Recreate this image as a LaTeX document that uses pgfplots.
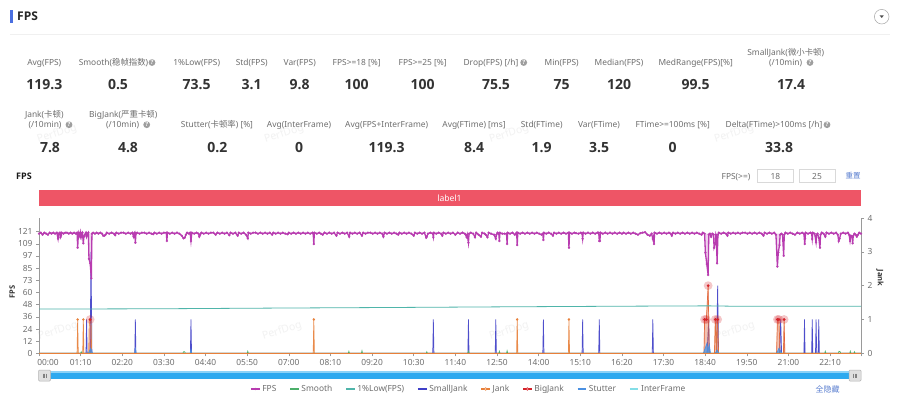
\documentclass[border=0pt]{standalone}
\usepackage{fontspec}
\usepackage{pgfplots}
\pgfplotsset{compat=1.18}
\setmainfont{Noto Sans}
\newfontfamily\ob{Open Sans}
\newfontfamily\cjk{Noto Sans CJK SC}
\definecolor{cfps}{HTML}{B83CB0}
\definecolor{csm}{HTML}{4CAF6A}
\definecolor{clow}{HTML}{4FB5AA}
\definecolor{csj}{HTML}{3F3FC8}
\definecolor{cj}{HTML}{E8803A}
\definecolor{cbj}{HTML}{D5232A}
\definecolor{cst}{HTML}{4A90E2}
\definecolor{cif}{HTML}{33C8D8}
\definecolor{lab}{HTML}{6E6E6E}
\definecolor{val}{HTML}{333333}
\definecolor{axg}{HTML}{9A9A9A}
\definecolor{lnk}{HTML}{5B7FD0}
\definecolor{tbar}{HTML}{4A6FE0}
\definecolor{band}{HTML}{EE5566}
\definecolor{sl}{HTML}{2DA9EF}
\definecolor{slt}{HTML}{8CD2F7}
\newcommand\fs[1]{\fontsize{#1}{#1}\selectfont}
\newcommand\lb[3]{\node[text=lab,font=\fs{8.4},inner sep=0pt,anchor=base] at (#1,#2+3) {#3};}
\newcommand\vl[3]{\node[text=val,font=\fs{14}\ob\bfseries,inner sep=0pt,anchor=base] at (#1,#2+5) {#3};}
\newcommand\qm[2]{\fill[black!38] (#1,#2) circle (3.4); \node[text=white,font=\fs{6}\ob\bfseries,inner sep=0pt] at (#1,#2) {?};}
\newcommand\wm[2]{\node[text=black!5,font=\fs{10.5},rotate=18,inner sep=0pt] at (#1,#2) {PerfDog};}
\pgfplotsset{
  base/.style={scale only axis,width=822pt,height=135.3pt,xmin=0,xmax=1382,
    axis line style={-,draw=axg,line width=.6pt},
    tick style={draw=axg,line width=.6pt},
    tick align=outside,major tick length=3pt,
    tick label style={font=\fs{8.4},text=lab},
    /pgf/number format/assume math mode=true,
    clip mode=individual},
  spike/.style={line width=.7pt,fill opacity=.3,draw opacity=.9},
}
\begin{document}
\begin{tikzpicture}[x=1pt,y=-1pt]
\useasboundingbox (0,0) rectangle (900,396);
\fill[white] (0,0) rectangle (900,396);
% watermarks
\wm{57}{134}\wm{284}{134}\wm{509}{134}\wm{734}{134}
\wm{58}{331}\wm{282}{331}\wm{509}{331}\wm{735}{331}
% header
\fill[tbar] (10,10) rectangle (12.5,23);
\node[anchor=west,text=black!85,font=\fs{12}\ob\bfseries,inner sep=0pt] at (17,16.7) {FPS};
\draw[black!6,line width=.6pt] (10,34.3) -- (890,34.3);
\draw[black!35,line width=.5pt] (881.7,16.7) circle (7.3);
\fill[black!70] (879.7,15.5) -- (883.7,15.5) -- (881.7,18) -- cycle;
% row 1
\lb{44.3}{62.7}{Avg(FPS)}\vl{44.3}{85}{119.3}
\lb{113.5}{62.7}{Smooth({\cjk 稳帧指数})}\qm{152}{62.5}\vl{118}{85}{0.5}
\lb{196.7}{62.7}{1\%Low(FPS)}\vl{196.7}{85}{73.5}
\lb{251.7}{62.7}{Std(FPS)}\vl{251.7}{85}{3.1}
\lb{299.7}{62.7}{Var(FPS)}\vl{299.7}{85}{9.8}
\lb{356.7}{62.7}{FPS>=18 [\%]}\vl{356.7}{85}{100}
\lb{422.7}{62.7}{FPS>=25 [\%]}\vl{422.7}{85}{100}
\lb{491}{62.7}{Drop(FPS) [/h]}\qm{523.7}{62.5}\vl{496}{85}{75.5}
\lb{561.7}{62.7}{Min(FPS)}\vl{561.7}{85}{75}
\lb{619}{62.7}{Median(FPS)}\vl{619}{85}{120}
\lb{695.7}{62.7}{MedRange(FPS)[\%]}\vl{695.7}{85}{99.5}
\lb{785.7}{52.3}{SmallJank({\cjk 微小卡顿})}\lb{785.7}{62.7}{(/10min)}\qm{810}{62.5}\vl{791}{85}{17.4}
% row 2
\lb{44.3}{114.3}{Jank({\cjk 卡顿})}\lb{45}{124.7}{(/10min)}\qm{69}{124.7}\vl{50}{147}{7.8}
\lb{123.3}{114.3}{BigJank({\cjk 严重卡顿})}\lb{122.7}{124.7}{(/10min)}\qm{146.7}{124.7}\vl{128}{147}{4.8}
\lb{217}{124.7}{Stutter({\cjk 卡顿率}) [\%]}\vl{217.3}{147}{0.2}
\lb{299}{124.7}{Avg(InterFrame)}\vl{299}{147}{0}
\lb{386.7}{124.7}{Avg(FPS+InterFrame)}\vl{386.7}{147}{119.3}
\lb{474}{124.7}{Avg(FTime) [ms]}\vl{474}{147}{8.4}
\lb{541.7}{124.7}{Std(FTime)}\vl{541.7}{147}{1.9}
\lb{599}{124.7}{Var(FTime)}\vl{599}{147}{3.5}
\lb{672.7}{124.7}{FTime>=100ms [\%]}\vl{672.7}{147}{0}
\lb{774}{124.7}{Delta(FTime)>100ms [/h]}\qm{827}{124.7}\vl{779}{147}{33.8}
% chart head
\node[anchor=west,text=black!90,font=\fs{9}\ob\bfseries,inner sep=0pt] at (16,176.5) {FPS};
\lb{736}{176}{FPS(>=)}
\draw[black!15,line width=.6pt] (757.3,169.3) rectangle (793.3,182.3);
\draw[black!15,line width=.6pt] (799,169.3) rectangle (835,182.3);
\lb{775.3}{176}{18}\lb{817}{176}{25}
\node[text=lnk,font=\fs{7.5}\cjk,inner sep=0pt] at (853,176) {重置};
\fill[band] (39,190.3) rectangle (861,205.7);
\node[text=white,font=\fs{8.6},inner sep=0pt] at (449.5,198) {label1};
\node[text=val,font=\fs{7.5}\ob\bfseries,rotate=90,inner sep=0pt] at (12.3,291.7) {FPS};
\node[text=val,font=\fs{7.5}\ob\bfseries,rotate=-90,inner sep=0pt] at (880,278) {Jank};
% slider
\fill[sl] (39,371) rectangle (861,379.3);
\fill[slt] (39,371) rectangle (861,372.6);
\draw[black!30,fill=black!12,line width=.5pt,rounded corners=1pt] (38.5,370) rectangle (50.5,381);
\draw[black!30,fill=black!12,line width=.5pt,rounded corners=1pt] (849,370) rectangle (861,381);
\draw[black!50,line width=.4pt] (43,373.5)--(43,377.5) (44.5,373.5)--(44.5,377.5) (46,373.5)--(46,377.5);
\draw[black!50,line width=.4pt] (853.5,373.5)--(853.5,377.5) (855,373.5)--(855,377.5) (856.5,373.5)--(856.5,377.5);
\node[text=lnk,font=\fs{8}\cjk,inner sep=0pt] at (827.7,389) {全隐藏};
% right axis: jank family
\begin{axis}[base,at={(39pt,-353.3pt)},anchor=south west,
  axis y line*=right,axis x line=none,ymin=0,ymax=4,ytick={0,1,2,3,4}]
\addplot[csj,spike,fill=csj] coordinates {(0,0)(79,0)(80,1)(81,0)(86,0)(87.4,3)(89,0)(161,0)(162,1)(163,0)(254.5,0)(255.5,1)(256.5,0)
 (662,0)(663,1)(664,0)(721,0)(722,1)(723,0)(767,0)(768,1)(769,0)(847,0)(848,1)(849,0)(913,0)(914,1)(915,0)(941,0)(942,1)(943,0)(1031,0)(1032,1)(1033,0)
 (1123,0)(1124,.3)(1126,1)(1127,0)(1139,0)(1141,2)(1142.5,0)(1245,0)(1247,1)(1248.5,0)(1286,0)(1287,1)(1288,0)(1299,0)(1300,1)(1301,0)(1305.5,0)(1306.5,1)(1307.5,0)(1310,0)(1311,1)(1312,0)(1382,0)};
\addplot[cj,spike,fill=cj] coordinates {(0,0)(64,0)(65,1)(66,0)(73.5,0)(74.5,1)(75.5,0)(83.5,0)(84.5,1)(86,1)(87.5,1)(88.5,0)(461,0)(462,1)(463,0)(803,0)(804,1)(805,0)(890,0)(891,1)(892,0)
 (1118,0)(1119,1)(1122,1)(1125,2)(1127,0)(1135.5,0)(1137,1)(1139,0)(1140,1)(1141,1)(1142.5,0)(1240,0)(1241.5,1)(1244,1)(1246,0)(1251.5,0)(1252.7,1)(1254,0)(1382,0)};
\addplot[only marks,cj,mark=*,mark size=1pt,mark options={fill=cj,draw=cj}] coordinates {(65,1)(74.5,1)(462,1)(804,1)(891,1)};
\addplot[cbj,line width=.5pt,fill=cbj,fill opacity=.12,draw opacity=.35] coordinates {(0,0)(85,0)(86,1)(87,0)(1118,0)(1119,1)(1122,1)(1125,2)(1127,0)(1136,0)(1137,1)(1141,1)(1142,0)(1240,0)(1241.5,1)(1244,1)(1245.5,0)(1252,0)(1252.7,1)(1254,0)(1382,0)};
\addplot[cst,line width=.6pt,fill=cst,fill opacity=.7] coordinates {(0,0)(83,0)(87,.15)(90,0)(161,0)(162,.12)(163,0)(254,0)(255.5,.12)(257,0)(1117,0)(1122,.25)(1123,.3)(1124,.05)(1127,.25)(1129,0)(1137,0)(1140,.1)(1143,0)(1240,0)(1244,.15)(1249,0)(1382,0)};
\addplot[only marks,cbj,mark=*,mark size=4.4pt,mark options={fill=cbj,fill opacity=.25,draw opacity=0}] coordinates {(86,1)(1119,1)(1122,1)(1125,2)(1137,1)(1141,1)(1241.5,1)(1244,1)(1252.7,1)};
\addplot[only marks,cbj,mark=*,mark size=1.2pt,mark options={fill=cbj,draw=cbj}] coordinates {(86,1)(1119,1)(1122,1)(1125,2)(1137,1)(1141,1)(1241.5,1)(1244,1)(1252.7,1)};
\end{axis}
% left axis: FPS family with the legend
\begin{axis}[base,at={(39pt,-353.3pt)},anchor=south west,
  axis y line*=left,axis x line*=bottom,ymin=0,ymax=134.6,
  ytick={0,12.1,24.2,36.3,48.4,60.5,72.6,84.7,96.8,108.9,121},
  yticklabels={0,12,24,36,48,60,73,85,97,109,121},
  xtick={0,70,140,210,280,350,420,490,560,630,700,770,840,910,980,1050,1120,1190,1260,1330,1382},
  xticklabels={\hspace*{18pt}00:00,01:10,02:20,03:30,04:40,05:50,07:00,08:10,09:20,10:30,11:40,12:50,14:00,15:10,16:20,17:30,18:40,19:50,21:00,22:10,{}},
  legend columns=8,
  legend style={at={(0.2567,-0.264)},anchor=west,draw=none,fill=none,inner sep=0pt,
    font=\fs{8.4},text=lab,cells={anchor=west},
    /tikz/every even column/.style={column sep=11pt}},
  legend image code/.code={\draw[mark repeat=2,mark phase=2,#1,line width=1.5pt] plot coordinates {(0pt,0pt)(4.3pt,0pt)(8.6pt,0pt)};},
]
\addplot[cfps,draw=none,fill=cfps,fill opacity=.22,forget plot] coordinates {(82,119)(84,94)(86,89.5)(88,74.6)(90,119)};
\addplot[cfps,draw=none,fill=cfps,fill opacity=.22,forget plot] coordinates {(1118,119)(1120.4,100)(1122.7,88.8)(1125,77.9)(1128,119)};
\addplot[cfps,draw=none,fill=cfps,fill opacity=.22,forget plot] coordinates {(1133,119)(1135,105)(1137,108.7)(1140,89.5)(1142,119)};
\addplot[cfps,draw=none,fill=cfps,fill opacity=.22,forget plot] coordinates {(1239,119)(1241.4,86.2)(1243,100.4)(1245,107.7)(1247,119)};
\addplot[cfps,line width=1.3pt,mark=*,mark size=1.05pt,mark options={fill=cfps,draw=cfps,line width=.2pt}] coordinates {
(0,119)(3,120)(6,118)(9,120)(12,119)(15,118)(18,120)(21,119)(24,120)(27,119)(30,120)(32,114)(33,119)(35,120)(36,115.5)(37,117)(38,120)(41,119)(44,120)(47,120)(50,119)(53,120)(56,119)(59,120)(62,119)(64,120)(65,105)(66,116)(67,120)(69,116)(70,120)(71,116)(72,119)(73,120)(74.5,109.4)(75.5,116)(77,118)(79,120)(80,116)(81,118)(83,120)(84,94)(86,89.5)(88,74.6)(89,119)(91,120)(94,119)(97,120)(100,119)(103,120)(106,119)(108,117)(110,117)(112,118)(114,120)(118,119)(122,120)(126,119)(128,117.5)(130,120)(134,119)(138,120)(142,120)(146,119)(150,120)(154,119)(157,120)(159,116)(160,119)(161,120)(162,110)(163,119)(165,120)(169,119)(173,120)(177,120)(181,119)(185,120)(189,119)(192,118.5)(194,120)(198,119)(202,120)(206,119)(210,120)(214,120)(215,111.7)(216,120)(220,119)(224,120)(228,119)(232,120)(236,119)(240,117)(243,114.4)(245,115)(247,118)(249,120)(252,119)(254,120)(255.5,111.7)(257,120)(261,119)(265,120)(268,119)(269.5,116)(271,118)(273,120)(277,119)(281,120)(285,119)(289,120)(293,120)(297,118)(300,120)(304,119)(308,120)(312,119)(316,120)(320,117.5)(322,120)(326,119)(330,120)(334,117)(336,120)(340,119)(344,120)(348,118)(351,114.4)(352,120)(356,119)(360,120)(364,120)(368,119)(372,120)(376,119)(380,120)(384,119)(388,120)(392,118)(394,120)(398,119)(402,120)(406,119)(410,120)(414,119)(418,118.5)(420,120)(424,119)(428,120)(432,119)(436,120)(440,119)(444,120)(448,119)(452,120)(456,119)(460,120)(461,119)(462,108.7)(463,120)(467,119)(471,120)(474,119)(477,118)(480,120)(484,119)(488,120)(492,119)(496,120)(500,117)(502,120)(506,119)(510,120)(514,119)(518,120)(521.5,116)(523,120)(527,119)(531,120)(535,119)(539,120)(543,117)(545,120)(549,119)(553,120)(557,120)(561,119)(565,120)(569,119)(573,120)(577,119)(579,116)(581,120)(585,119)(589,120)(593,119)(597,120)(601,119)(604,118)(606,120)(610,119)(614,120)(618,119)(622,120)(626,119)(630,117)(632,120)(636,119)(640,120)(644,119)(648,120)(651,115)(652,116)(654,119)(658,120)(662,119)(663,115.5)(664,120)(668,119)(672,120)(676,119)(678,117)(680,120)(684,119)(688,120)(692,119)(696,120)(700,118)(704,120)(708,119)(712,120)(716,119)(719,115.5)(720,118)(722,110)(723,119)(726,120)(730,119)(733,115.5)(735,120)(739,118)(743,116)(745,120)(749,119)(751,118)(754,115.5)(756,120)(760,119)(765,118)(768,114)(769,118)(771,120)(773,119)(774,111.7)(775,120)(779,119)(783,119)(786,119)(787,108.7)(788,120)(792,119)(796,120)(800,118)(803,120)(804,107.7)(805,120)(809,119)(813,120)(817,119)(821,120)(825,119)(829,120)(833,119)(837,120)(841,119)(845,118)(847,119)(848,112.7)(849,120)(853,119)(857,120)(861,119)(864,117)(866,120)(870,119)(874,120)(878,119)(882,120)(886,119)(890,120)(891,105)(892,120)(896,119)(900,120)(903,119.5)(907,119)(911,120)(913,119)(914,114)(915,120)(919,119)(923,120)(927,119)(931,120)(935,119)(939,120)(941,120)(942,111.7)(943,111.7)(944,120)(948,119)(952,120)(956,119)(960,120)(964,119)(968,120)(972,119)(976,120)(980,119)(983,120)(987,119)(991,120)(995,119)(999,120)(1003,119)(1007,118)(1011,119.5)(1015,120)(1019,120.5)(1023,118)(1027,117)(1030,119)(1032,113.7)(1033,116)(1034,108.7)(1035,120)(1039,119)(1043,120)(1047,119)(1051,120)(1055,119)(1059,120)(1062,119)(1064,117)(1066,120)(1070,119)(1074,120)(1078,119)(1082,120)(1086,119)(1090,120)(1094,119)(1098,120)(1102,119)(1106,120)(1110,119)(1114,118)(1116,120)(1119,119)(1120.4,100)(1122.7,88.8)(1125,77.9)(1126,118)(1128,119)(1130,116)(1132,119)(1134,118)(1135,105)(1137,108.7)(1138,118)(1139,116)(1140,89.5)(1141.5,118)(1143,120)(1147,119)(1151,120)(1155,119)(1157.4,117)(1159,120)(1163,119)(1167,120)(1171,119)(1175,120)(1179,119)(1183,120)(1187,120)(1191,119)(1195,120)(1199,119)(1203,120)(1207,119)(1211,120)(1215,119)(1218,117)(1220,120)(1224,119)(1228,120)(1232,119)(1236,120)(1239,118)(1241.4,86.2)(1243,100.4)(1245,107.7)(1246,118)(1248,119)(1250,118)(1252,97)(1253,118)(1255,120)(1259,119)(1263,120)(1267,119)(1271,118)(1275,120)(1279,119)(1283,120)(1286,119)(1287.4,108.7)(1288,114)(1289,120)(1293,119)(1297,120)(1299,119)(1300,113.7)(1301,120)(1304,119)(1306.4,110.4)(1307.5,118)(1309,119)(1311,115)(1313,105)(1314,118)(1316,120)(1319,119)(1322,116)(1324,120)(1328,119)(1332,120)(1336,119)(1340,120)(1343,118)(1344.5,111.7)(1346,114)(1348,119)(1352,120)(1356,119)(1360,120)(1362,118)(1363.6,111.7)(1365,117)(1367,116)(1368,109.4)(1369,117)(1371,119)(1373,118)(1375,116)(1377,118)(1379,120)(1382,119)};
\addlegendentry{FPS}
\addplot[csm,line width=.7pt] coordinates {(0,0)(70,0)(71,1.5)(72,0)(242,0)(243,1.5)(245,1.5)(246,0)(350,0)(351,2)(352,0)(520,0)(521,2)(522,0)(542,0)(543,2.5)(544,0)(651,0)(652,1.5)(653,0)(721,0)(722,2)(723,0)(773,0)(774,2)(775,0)(786,0)(787,2.5)(788,0)(1321,0)(1322,2)(1323,0)(1344,0)(1345,2)(1347,1.5)(1348,0)(1363,0)(1364,2)(1365,0)(1370,0)(1371,1.5)(1372,0)(1382,0)};
\addlegendentry{Smooth}
\addplot[clow,line width=.8pt] coordinates {(0,44)(200,44.3)(400,45)(600,45.6)(800,46.3)(1000,46.9)(1125,47.2)(1160,46.9)(1382,46.8)};
\addlegendentry{1\%Low(FPS)}
\addlegendimage{csj}
\addlegendentry{SmallJank}
\addlegendimage{cj,mark=*,mark size=1.3pt,mark options={fill=white,line width=.6pt}}
\addlegendentry{Jank}
\addlegendimage{cbj,mark=*,mark size=1.3pt,mark options={fill=white,line width=.6pt}}
\addlegendentry{BigJank}
\addlegendimage{cst}
\addlegendentry{Stutter}
\addplot[cif,line width=.5pt,opacity=.6] coordinates {(0,0)(1382,0)};
\addlegendentry{InterFrame}
\addplot[cj,line width=.7pt,forget plot] coordinates {(0,0)(1382,0)};
\end{axis}
\end{tikzpicture}
\end{document}
